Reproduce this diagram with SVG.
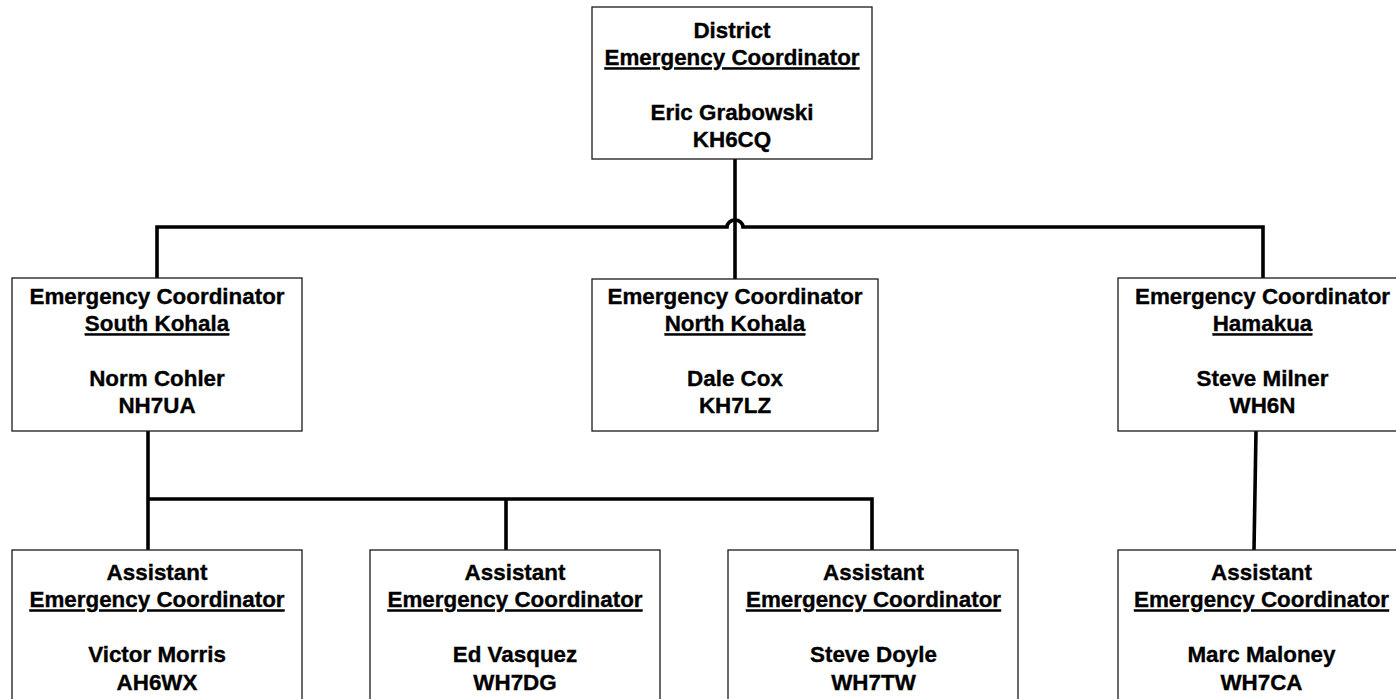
<svg xmlns="http://www.w3.org/2000/svg" width="1396" height="699" viewBox="0 0 1396 699">
<style>
.box{fill:#fff;stroke:#1a1a1a;stroke-width:1.3}
.t{font-family:"Liberation Sans",Arial,sans-serif;font-weight:bold;font-size:22.4px;fill:#000;stroke:#000;stroke-width:0.35;text-anchor:middle}
.u{text-decoration:underline}
.c{fill:none;stroke:#000;stroke-width:3.6;stroke-linejoin:miter}
</style>
<rect width="1396" height="699" fill="#fff"/>
<g id="connectors">
<path class="c" d="M735,159 V279"/>
<path class="c" d="M157,279 V227 H727 A8,7 0 0 1 743,227 H1263 V279"/>
<path class="c" d="M148,431 V550"/>
<path class="c" d="M148,499 H872 V550"/>
<path class="c" d="M506,499 V550"/>
<path class="c" d="M1256,431 L1254,550"/>
</g>
<g id="district">
<rect class="box" x="592" y="7" width="280" height="152"/>
<text class="t" x="732" y="38.3">District</text>
<text class="t u" x="732" y="65.3">Emergency Coordinator</text>
<text class="t" x="732" y="119.5">Eric Grabowski</text>
<text class="t" x="732" y="146.5">KH6CQ</text>
</g>
<g id="south-kohala">
<rect class="box" x="12" y="278" width="290" height="153"/>
<text class="t" x="157" y="304">Emergency Coordinator</text>
<text class="t u" x="157" y="331.3">South Kohala</text>
<text class="t" x="157" y="386">Norm Cohler</text>
<text class="t" x="157" y="413.3">NH7UA</text>
</g>
<g id="north-kohala">
<rect class="box" x="592" y="279" width="286" height="152"/>
<text class="t" x="735" y="304">Emergency Coordinator</text>
<text class="t u" x="735" y="331.3">North Kohala</text>
<text class="t" x="735" y="386">Dale Cox</text>
<text class="t" x="735" y="413.3">KH7LZ</text>
</g>
<g id="hamakua">
<rect class="box" x="1118" y="278" width="290" height="153"/>
<text class="t" x="1262.5" y="304">Emergency Coordinator</text>
<text class="t u" x="1262.5" y="331.3">Hamakua</text>
<text class="t" x="1262.5" y="386">Steve Milner</text>
<text class="t" x="1262.5" y="413.3">WH6N</text>
</g>
<g id="victor-morris">
<rect class="box" x="12" y="550" width="290" height="153"/>
<text class="t" x="157" y="580">Assistant</text>
<text class="t u" x="157" y="607.4">Emergency Coordinator</text>
<text class="t" x="157" y="662">Victor Morris</text>
<text class="t" x="157" y="689.6">AH6WX</text>
</g>
<g id="ed-vasquez">
<rect class="box" x="370" y="550" width="290" height="153"/>
<text class="t" x="515" y="580">Assistant</text>
<text class="t u" x="515" y="607.4">Emergency Coordinator</text>
<text class="t" x="515" y="662">Ed Vasquez</text>
<text class="t" x="515" y="689.6">WH7DG</text>
</g>
<g id="steve-doyle">
<rect class="box" x="728" y="550" width="290" height="153"/>
<text class="t" x="873.5" y="580">Assistant</text>
<text class="t u" x="873.5" y="607.4">Emergency Coordinator</text>
<text class="t" x="873.5" y="662">Steve Doyle</text>
<text class="t" x="873.5" y="689.6">WH7TW</text>
</g>
<g id="marc-maloney">
<rect class="box" x="1118" y="550" width="290" height="153"/>
<text class="t" x="1261.5" y="580">Assistant</text>
<text class="t u" x="1261.5" y="607.4">Emergency Coordinator</text>
<text class="t" x="1261.5" y="662">Marc Maloney</text>
<text class="t" x="1261.5" y="689.6">WH7CA</text>
</g>
</svg>
